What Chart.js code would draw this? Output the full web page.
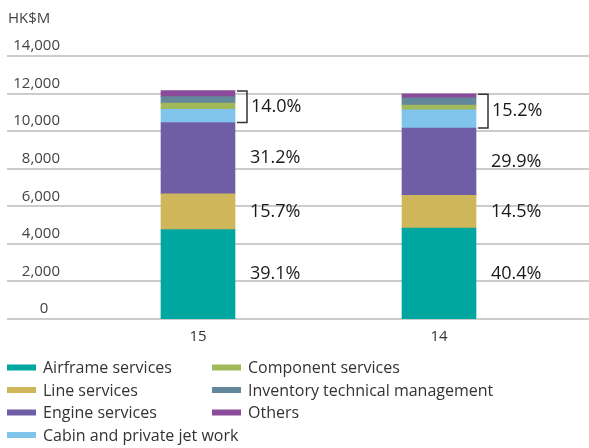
<!DOCTYPE html>
<html>
<head>
<meta charset="utf-8">
<script src="https://cdn.jsdelivr.net/npm/chart.js@4.4.1/dist/chart.umd.min.js"></script>
<style>
  html, body { margin: 0; padding: 0; background: #fff; }
  #wrap { position: relative; width: 589px; height: 448px; }
</style>
</head>
<body>
<div id="wrap"><canvas id="c" width="589" height="448"></canvas></div>
<script>
// Revenue by service line, HK$M
const categories = ['15', '14'];
const airframe  = [4755, 4841];
const lineSvc   = [1909, 1738];
const engine    = [3794, 3583];
const cabin     = [700, 977];
const component = [330, 245];
const inventory = [352, 385];
const others    = [320, 215];
const yTicks      = [0, 2000, 4000, 6000, 8000, 10000, 12000, 14000];
const yTickLabels = ['0   ', '2,000', '4,000', '6,000', '8,000', '10,000', '12,000', '14,000'];

const seriesNames = [
  'Airframe services', 'Line services', 'Engine services', 'Cabin and private jet work',
  'Component services', 'Inventory technical management', 'Others'
];
const series = [airframe, lineSvc, engine, cabin, component, inventory, others];
const seriesColors = ['#00a6a0', '#cfb65b', '#6f5da6', '#80c4ec', '#a2b95a', '#63879b', '#8a4b9a'];

const FONT = '"Open Sans", "Noto Sans", sans-serif';
Chart.defaults.font.family = FONT;

const datasets = series.map((vals, k) => ({
  label: seriesNames[k],
  data: vals,
  backgroundColor: seriesColors[k],
  borderWidth: 0,
  barThickness: 74
}));

const pct = (part, total) => (part / total * 100).toFixed(1) + '%';

// Horizontal rules at each value tick, running the full width of the canvas
const fullWidthGrid = {
  id: 'fullWidthGrid',
  beforeDatasetsDraw(chart) {
    const c = chart.ctx;
    const y = chart.scales.y;
    c.save();
    c.strokeStyle = '#cccccc';
    c.lineWidth = 2;
    y.ticks.forEach(t => {
      const py = Math.round(y.getPixelForValue(t.value));
      c.beginPath();
      c.moveTo(7, py);
      c.lineTo(chart.width, py);
      c.stroke();
    });
    c.restore();
  }
};

// Share labels beside each bar; the four small top segments are bracketed together
const shareLabels = {
  id: 'shareLabels',
  afterDatasetsDraw(chart) {
    const c = chart.ctx;
    c.save();
    c.font = '18px ' + FONT;
    c.fillStyle = '#1a1a1a';
    c.textBaseline = 'middle';
    c.textAlign = 'left';
    categories.forEach((cat, i) => {
      const total = series.reduce((s, arr) => s + arr[i], 0);
      const bars = series.map((_, k) => chart.getDatasetMeta(k).data[i]);
      const right = bars[0].x + bars[0].width / 2;
      for (let k = 0; k < 3; k++) {
        const b = bars[k];
        c.fillText(pct(series[k][i], total), right + 15, (b.y + b.base) / 2);
      }
      const groupSum = series.slice(3).reduce((s, arr) => s + arr[i], 0);
      const top = bars[6].y, bottom = bars[3].base;
      c.beginPath();
      c.strokeStyle = '#333';
      c.lineWidth = 1.5;
      c.moveTo(right + 2, top + 0.5);
      c.lineTo(right + 12, top + 0.5);
      c.lineTo(right + 12, bottom);
      c.lineTo(right + 2, bottom);
      c.stroke();
      c.fillText(pct(groupSum, total), right + 16, (top + bottom) / 2);
    });
    c.restore();
  }
};

// Unit caption and a two-column legend, filled column by column
const captionAndLegend = {
  id: 'captionAndLegend',
  afterDraw(chart) {
    const c = chart.ctx;
    c.save();
    c.font = '15px ' + FONT;
    c.fillStyle = '#444';
    c.textBaseline = 'alphabetic';
    c.fillText('HK$M', 8, 23);

    c.font = '16px ' + FONT;
    c.textBaseline = 'middle';
    const colX = [7, 212];
    const rowY = [367.5, 390, 412.5, 435];
    chart.data.datasets.forEach((ds, k) => {
      const col = Math.floor(k / 4), row = k % 4;
      const x = colX[col], y = rowY[row];
      c.fillStyle = ds.backgroundColor;
      c.fillRect(x, y - 3, 29, 6);
      c.fillStyle = '#333';
      c.fillText(ds.label, x + 36, y + 1);
    });
    c.restore();
  }
};

new Chart(document.getElementById('c'), {
  type: 'bar',
  data: { labels: categories, datasets },
  options: {
    responsive: false,
    animation: false,
    layout: { padding: { left: 7, right: 29.5, top: 56, bottom: 0 } },
    plugins: { legend: { display: false }, tooltip: { enabled: false } },
    scales: {
      x: {
        stacked: true,
        ticks: { font: { size: 15 }, color: '#333', padding: 9, maxRotation: 0 },
        grid: { display: false, drawTicks: false },
        border: { display: false },
        afterFit: s => { s.height = 129; }
      },
      y: {
        stacked: true,
        min: 0,
        max: 14000,
        afterBuildTicks: s => { s.ticks = yTicks.map(v => ({ value: v })); },
        ticks: {
          padding: 17.5, labelOffset: -10,
          font: { size: 15 }, color: '#444',
          callback: (v, i) => yTickLabels[i]
        },
        grid: { display: false, drawTicks: false },
        border: { display: false },
        afterFit: s => { s.width = 70.5; }
      }
    }
  },
  plugins: [fullWidthGrid, shareLabels, captionAndLegend]
});
</script>
</body>
</html>
